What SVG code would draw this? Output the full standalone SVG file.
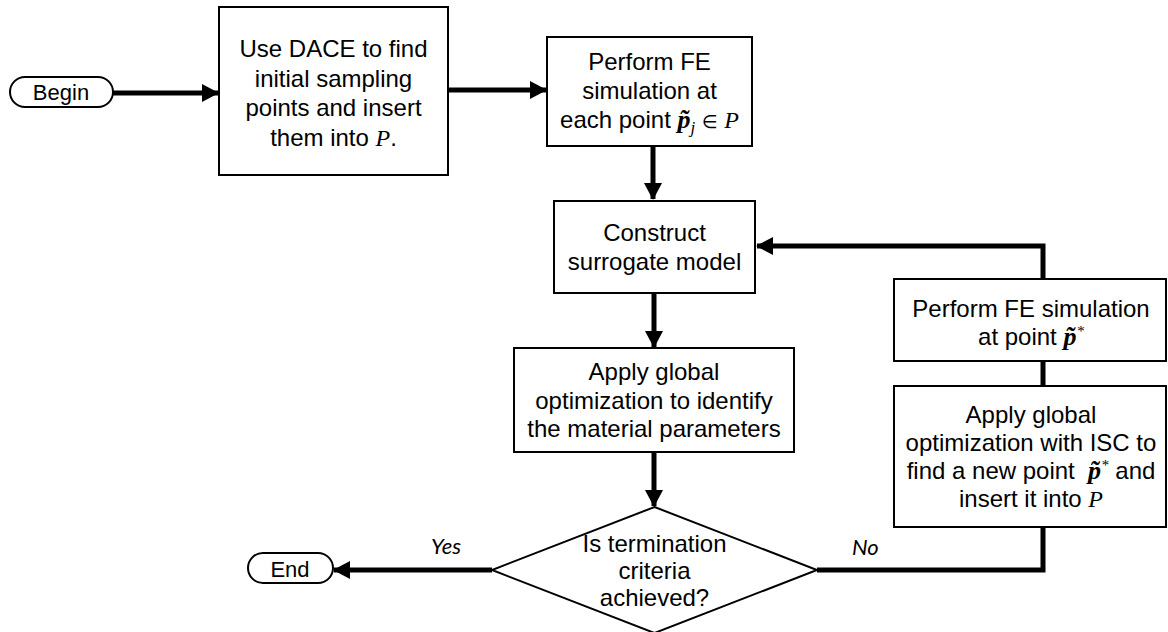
<svg xmlns="http://www.w3.org/2000/svg" width="1168" height="632" viewBox="0 0 1168 632">
<style>
.box{fill:#fff;stroke:#000;stroke-width:2}
.t{font-family:"Liberation Sans",Arial,sans-serif;font-size:24px;text-anchor:middle;fill:#000}
.term{font-family:"Liberation Sans",Arial,sans-serif;font-size:22px;text-anchor:middle;fill:#000}
.m{font-family:"Liberation Serif","DejaVu Serif",serif;font-style:italic}
.pb{font-family:"Liberation Serif","DejaVu Serif",serif;font-style:italic;font-weight:bold;font-size:26px}
.el{font-family:"DejaVu Sans",sans-serif;font-size:18px}
.lbl{font-family:Lato,"Open Sans",sans-serif;font-style:italic;font-size:22px;fill:#000}
.c{fill:none;stroke:#000;stroke-width:5}
</style>
<defs>
<marker id="ah" markerUnits="userSpaceOnUse" markerWidth="17" markerHeight="18" viewBox="0 0 17 18" refX="16" refY="9" orient="auto">
<path d="M0,0 L17,9 L0,18 z" fill="#000"/>
</marker>
</defs>
<g id="connectors">
<path class="c" d="M113,93 H218" marker-end="url(#ah)"/>
<path class="c" d="M448,90 H546" marker-end="url(#ah)"/>
<path class="c" d="M653,146 V199" marker-end="url(#ah)"/>
<path class="c" d="M654,293 V347" marker-end="url(#ah)"/>
<path class="c" d="M654,452 V506" marker-end="url(#ah)"/>
<path class="c" d="M492,570 H334" marker-end="url(#ah)"/>
<path class="c" d="M817,570 H1043 V526"/>
<path class="c" d="M1043,386 V361"/>
<path class="c" d="M1043,279 V246 H757" marker-end="url(#ah)"/>
</g>
<g id="begin">
<rect class="box" x="10" y="77" width="103" height="30" rx="15"/>
<text class="term" x="61" y="100">Begin</text>
</g>
<g id="dace">
<rect class="box" x="219" y="7" width="229" height="168"/>
<text class="t" x="333.5" y="57">Use DACE to find</text>
<text class="t" x="333.5" y="86.5">initial sampling</text>
<text class="t" x="333.5" y="116">points and insert</text>
<text class="t" x="333.5" y="145.5">them into <tspan class="m">P</tspan>.</text>
</g>
<g id="fe-each">
<rect class="box" x="547" y="37" width="205" height="109"/>
<text class="t" x="649.5" y="70">Perform FE</text>
<text class="t" x="649.5" y="99">simulation at</text>
<text class="t" x="649.5" y="128">each point <tspan class="pb">p̃</tspan><tspan class="m" font-size="17" dy="5">j</tspan><tspan dy="-5"> </tspan><tspan class="el">∈</tspan> <tspan class="m">P</tspan></text>
</g>
<g id="surrogate">
<rect class="box" x="554" y="201" width="201" height="92"/>
<text class="t" x="654.5" y="241">Construct</text>
<text class="t" x="654.5" y="270">surrogate model</text>
</g>
<g id="global-opt">
<rect class="box" x="514" y="348" width="280" height="104"/>
<text class="t" x="654" y="380">Apply global</text>
<text class="t" x="654" y="408.5">optimization to identify</text>
<text class="t" x="654" y="437">the material parameters</text>
</g>
<g id="decision">
<path class="box" d="M654.5,507 L817,570 L654.5,633 L492,570 Z"/>
<text class="t" x="654.5" y="552">Is termination</text>
<text class="t" x="654.5" y="579">criteria</text>
<text class="t" x="654.5" y="606">achieved?</text>
</g>
<g id="end">
<rect class="box" x="248" y="553" width="85" height="30" rx="15"/>
<text class="term" x="290" y="577">End</text>
</g>
<g id="fe-point">
<rect class="box" x="894" y="279" width="272" height="82"/>
<text class="t" x="1031" y="317">Perform FE simulation</text>
<text class="t" x="1031" y="345">at point <tspan class="pb">p̃</tspan><tspan class="m" font-size="15" dy="-9">*</tspan></text>
</g>
<g id="isc">
<rect class="box" x="894" y="386" width="272" height="141"/>
<text class="t" x="1031" y="423">Apply global</text>
<text class="t" x="1031" y="451">optimization with ISC to</text>
<text class="t" x="1031" y="479" xml:space="preserve">find a new point  <tspan class="pb">p̃</tspan><tspan class="m" font-size="15" dy="-9">*</tspan><tspan dy="9"> and</tspan></text>
<text class="t" x="1031" y="507">insert it into <tspan class="m">P</tspan></text>
</g>
<text class="lbl" x="431" y="554">Yes</text>
<text class="lbl" x="852" y="555">No</text>
</svg>
